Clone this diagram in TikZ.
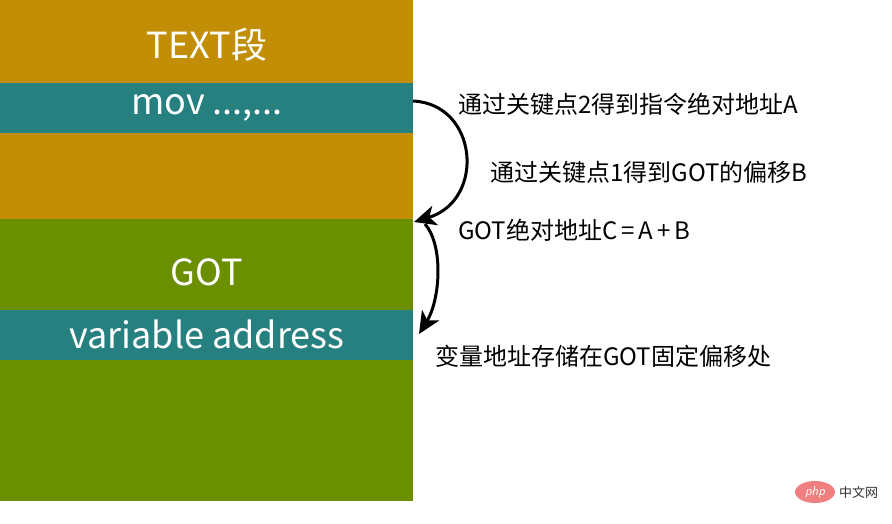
\documentclass[tikz,border=0pt]{standalone}
\usepackage{fontspec}
\setmainfont{Noto Sans CJK SC}
\newfontfamily\cjk{Noto Sans CJK SC}
\usetikzlibrary{arrows.meta,shapes.geometric}
\definecolor{segorange}{HTML}{C28E06}
\definecolor{segteal}{HTML}{268080}
\definecolor{seggreen}{HTML}{6A8F00}
\definecolor{phppink}{HTML}{F08080}
\tikzset{
  seg/.style={draw=none, minimum width=413pt, inner sep=0pt, outer sep=0pt, anchor=north west},
  segtext/.style={text=white, font=\cjk\fontsize{36}{40}\selectfont},
  note/.style={anchor=west, inner sep=0pt, font=\cjk\fontsize{24}{28}\selectfont, text=black},
  arr/.style={line width=3pt, -{Stealth[length=22pt,width=20pt,inset=6pt]}},
}
\begin{document}
\begin{tikzpicture}[x=1pt,y=-1pt]
\fill[white] (0,0) rectangle (892,523);
\useasboundingbox (0,0) rectangle (892,523);
% blocks
\node[seg, fill=segorange, minimum height=83pt] (text) at (0,0) {};
\node[seg, fill=segteal, minimum height=50pt] (mov) at (0,83) {};
\node[seg, fill=segorange, minimum height=86pt] (text2) at (0,133) {};
\node[seg, fill=seggreen, minimum height=91pt] (got) at (0,219) {};
\node[seg, fill=segteal, minimum height=50pt] (var) at (0,310) {};
\node[seg, fill=seggreen, minimum height=141pt] (got2) at (0,360) {};
% block labels
\node[segtext] (ltext) at (207,45) {TEXT段};
\node[segtext] (lmov) at (207,108) {mov ...,...};
\node[segtext] (lgot) at (207,272) {GOT};
\node[segtext] (lvar) at (207,334) {variable address};
% notes
\node[note] (n1) at (458,104) {通过关键点2得到指令绝对地址A};
\node[note] (n2) at (490,172) {通过关键点1得到GOT的偏移B};
\node[note] (n3) at (458,230) {GOT绝对地址C\,=\,A\,+\,B};
\node[note] (n4) at (435,356) {变量地址存储在GOT固定偏移处};
% arrows
\coordinate (a1s) at (413,101);
\coordinate (a1e) at (414,222);
\coordinate (a2s) at (425,224);
\coordinate (a2e) at (419,334);
\draw[arr] (a1s) .. controls (478,104) and (486,200) .. (a1e);
\draw[arr] (a2s) .. controls (444,246) and (440,300) .. (a2e);
% watermark
\node[ellipse, fill=phppink, minimum width=40pt, minimum height=22pt, inner sep=0pt, text=white, font=\sffamily\itshape\fontsize{13}{14}\selectfont] (php) at (815,492) {php};
\node[anchor=west, inner sep=0pt, text=black!80, font=\cjk\fontsize{13}{14}\selectfont] (cn) at (839,492) {中文网};
\end{tikzpicture}
\end{document}
